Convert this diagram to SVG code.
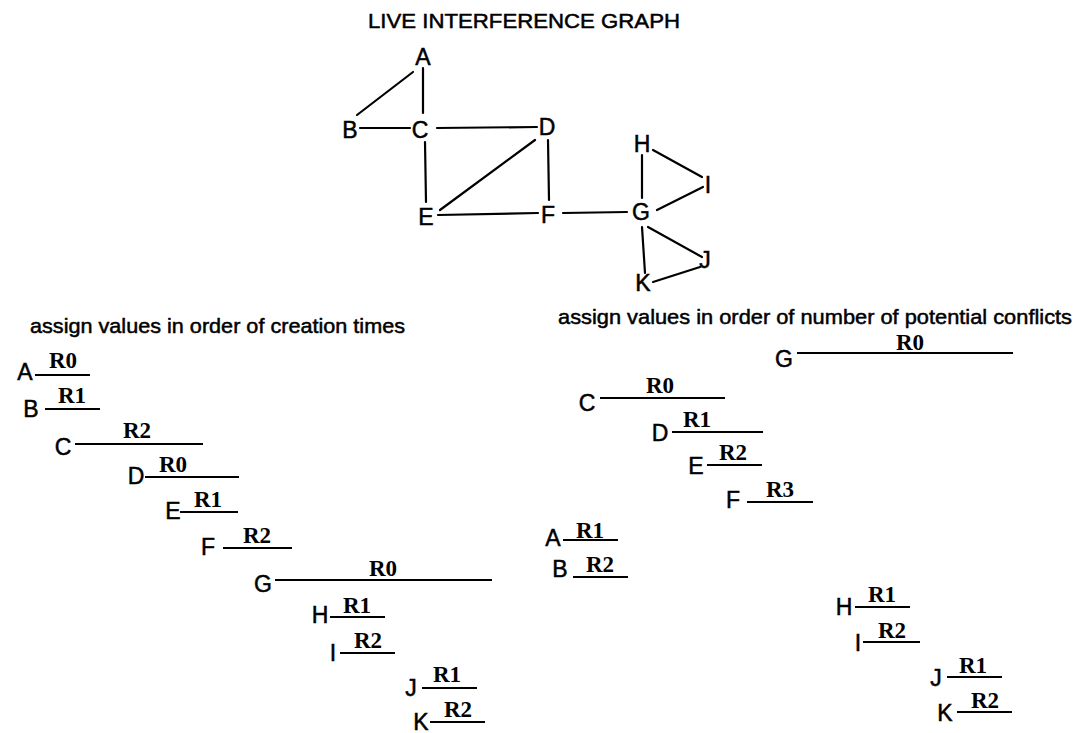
<svg xmlns="http://www.w3.org/2000/svg" width="1079" height="733" viewBox="0 0 1079 733">
<style>
.n{font-family:"Liberation Sans",Arial,sans-serif;font-size:23px;fill:#000;stroke:#000;stroke-width:0.5;text-anchor:middle}
.h{font-family:"Liberation Sans",Arial,sans-serif;font-size:21px;fill:#000;stroke:#000;stroke-width:0.5}
.r{font-family:"Liberation Serif","Times New Roman",serif;font-size:23px;font-weight:bold;fill:#000;text-anchor:middle}
.e{stroke:#000;stroke-width:2.2;fill:none;stroke-linecap:round}
.a{stroke:#000;stroke-width:2.2;fill:none}
</style>
<rect width="1079" height="733" fill="#fff"/>
<text id="title" class="h" x="368" y="28" font-size="20" textLength="312" lengthAdjust="spacingAndGlyphs">LIVE INTERFERENCE GRAPH</text>
<g id="connectors">
<line class="e" x1="423" y1="68" x2="423" y2="113"/>
<line class="e" x1="413" y1="72" x2="357" y2="115"/>
<line class="e" x1="360" y1="128" x2="410" y2="128"/>
<line class="e" x1="437" y1="128" x2="537" y2="127"/>
<line class="e" x1="425" y1="142" x2="426" y2="202"/>
<line class="e" x1="535" y1="140" x2="440" y2="210"/>
<line class="e" x1="548" y1="140" x2="549" y2="200"/>
<line class="e" x1="438" y1="215" x2="538" y2="213"/>
<line class="e" x1="563" y1="213" x2="627" y2="212"/>
<line class="e" x1="642" y1="155" x2="642" y2="198"/>
<line class="e" x1="653" y1="150" x2="702" y2="177"/>
<line class="e" x1="657" y1="210" x2="703" y2="187"/>
<line class="e" x1="648" y1="227" x2="702" y2="257"/>
<line class="e" x1="642" y1="227" x2="645" y2="273"/>
<line class="e" x1="653" y1="282" x2="700" y2="267"/>
</g>
<g id="node-A"><text class="n" x="423" y="65">A</text></g>
<g id="node-B"><text class="n" x="350" y="138">B</text></g>
<g id="node-C"><text class="n" x="420" y="138">C</text></g>
<g id="node-D"><text class="n" x="547" y="135">D</text></g>
<g id="node-E"><text class="n" x="426" y="225">E</text></g>
<g id="node-F"><text class="n" x="548" y="223">F</text></g>
<g id="node-G"><text class="n" x="641" y="220">G</text></g>
<g id="node-H"><text class="n" x="642" y="152">H</text></g>
<g id="node-I"><text class="n" x="708" y="193">I</text></g>
<g id="node-J"><text class="n" x="705" y="268">J</text></g>
<g id="node-K"><text class="n" x="643" y="291">K</text></g>

<text id="heading-left" class="h" x="30" y="333" textLength="375" lengthAdjust="spacingAndGlyphs">assign values in order of creation times</text>
<text id="heading-right" class="h" x="558" y="324" textLength="514" lengthAdjust="spacingAndGlyphs">assign values in order of number of potential conflicts</text>

<g id="left-A"><text class="n" x="25" y="380">A</text><line class="a" x1="35" y1="375" x2="90" y2="375"/><text class="r" x="63" y="368">R0</text></g>
<g id="left-B"><text class="n" x="31" y="417">B</text><line class="a" x1="45" y1="409" x2="100" y2="409"/><text class="r" x="72" y="403">R1</text></g>
<g id="left-C"><text class="n" x="63" y="455">C</text><line class="a" x1="75" y1="444" x2="203" y2="444"/><text class="r" x="137" y="438">R2</text></g>
<g id="left-D"><text class="n" x="136" y="484">D</text><line class="a" x1="145" y1="477" x2="239" y2="477"/><text class="r" x="173" y="472">R0</text></g>
<g id="left-E"><text class="n" x="173" y="519">E</text><line class="a" x1="180" y1="512" x2="238" y2="512"/><text class="r" x="208" y="507">R1</text></g>
<g id="left-F"><text class="n" x="208" y="555">F</text><line class="a" x1="223" y1="548" x2="292" y2="548"/><text class="r" x="257" y="543">R2</text></g>
<g id="left-G"><text class="n" x="263" y="592">G</text><line class="a" x1="275" y1="580" x2="492" y2="580"/><text class="r" x="383" y="576">R0</text></g>
<g id="left-H"><text class="n" x="320" y="623">H</text><line class="a" x1="330" y1="617" x2="385" y2="617"/><text class="r" x="357" y="613">R1</text></g>
<g id="left-I"><text class="n" x="333" y="661">I</text><line class="a" x1="340" y1="653" x2="395" y2="653"/><text class="r" x="368" y="648">R2</text></g>
<g id="left-J"><text class="n" x="411" y="696">J</text><line class="a" x1="422" y1="688" x2="477" y2="688"/><text class="r" x="447" y="682">R1</text></g>
<g id="left-K"><text class="n" x="421" y="730">K</text><line class="a" x1="430" y1="722" x2="485" y2="722"/><text class="r" x="458" y="717">R2</text></g>

<g id="right-G"><text class="n" x="784" y="367">G</text><line class="a" x1="797" y1="353" x2="1013" y2="353"/><text class="r" x="910" y="350">R0</text></g>
<g id="right-C"><text class="n" x="587" y="411">C</text><line class="a" x1="600" y1="398" x2="725" y2="398"/><text class="r" x="660" y="393">R0</text></g>
<g id="right-D"><text class="n" x="660" y="441">D</text><line class="a" x1="672" y1="432" x2="763" y2="432"/><text class="r" x="697" y="427">R1</text></g>
<g id="right-E"><text class="n" x="696" y="474">E</text><line class="a" x1="707" y1="465" x2="762" y2="465"/><text class="r" x="733" y="460">R2</text></g>
<g id="right-F"><text class="n" x="733" y="508">F</text><line class="a" x1="747" y1="502" x2="813" y2="502"/><text class="r" x="780" y="497">R3</text></g>
<g id="right-A"><text class="n" x="553" y="546">A</text><line class="a" x1="563" y1="540" x2="618" y2="540"/><text class="r" x="590" y="538">R1</text></g>
<g id="right-B"><text class="n" x="560" y="577">B</text><line class="a" x1="573" y1="577" x2="628" y2="577"/><text class="r" x="600" y="572">R2</text></g>
<g id="right-H"><text class="n" x="844" y="615">H</text><line class="a" x1="855" y1="607" x2="910" y2="607"/><text class="r" x="882" y="602">R1</text></g>
<g id="right-I"><text class="n" x="858" y="651">I</text><line class="a" x1="863" y1="642" x2="920" y2="642"/><text class="r" x="892" y="638">R2</text></g>
<g id="right-J"><text class="n" x="936" y="686">J</text><line class="a" x1="947" y1="677" x2="1002" y2="677"/><text class="r" x="973" y="673">R1</text></g>
<g id="right-K"><text class="n" x="945" y="721">K</text><line class="a" x1="957" y1="712" x2="1012" y2="712"/><text class="r" x="985" y="708">R2</text></g>
</svg>
